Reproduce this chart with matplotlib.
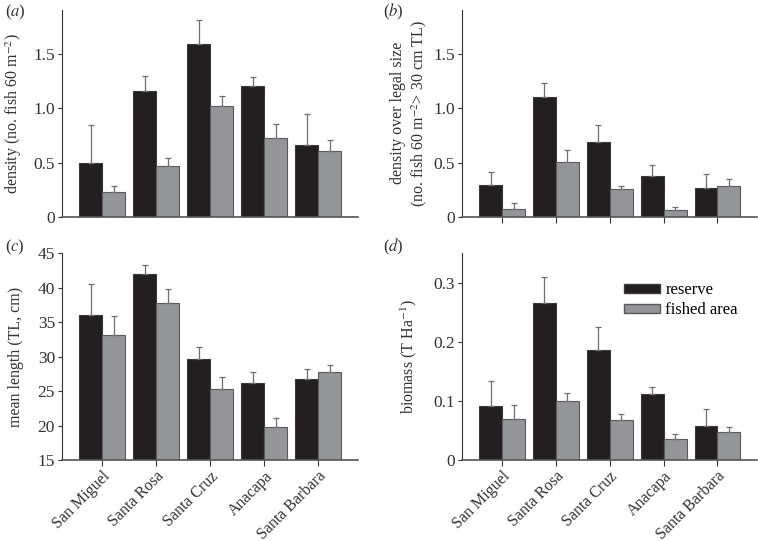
import numpy as np
import matplotlib
matplotlib.use('Agg')
import matplotlib.pyplot as plt
from matplotlib.patches import Patch

plt.rcParams['font.family'] = ['Liberation Serif', 'DejaVu Serif']
plt.rcParams['mathtext.fontset'] = 'stix'

# ======================================================
# data
# ======================================================
islands = ['San Miguel', 'Santa Rosa', 'Santa Cruz', 'Anacapa', 'Santa Barbara']

# (a) density
dens_res = [0.50, 1.16, 1.60, 1.205, 0.663]
dens_res_top = [0.844, 1.298, 1.82, 1.294, 0.951]
dens_fish = [0.224, 0.466, 1.025, 0.727, 0.604]
dens_fish_top = [0.288, 0.546, 1.117, 0.859, 0.706]

# (b) density over legal size
legal_res = [0.29, 1.107, 0.687, 0.38, 0.264]
legal_res_top = [0.414, 1.236, 0.847, 0.482, 0.393]
legal_fish = [0.07, 0.506, 0.255, 0.061, 0.285]
legal_fish_top = [0.123, 0.613, 0.288, 0.086, 0.344]

# (c) mean length
len_res = [36.0, 41.96, 29.73, 26.11, 26.79]
len_res_top = [40.56, 43.36, 31.33, 27.75, 28.19]
len_fish = [33.07, 37.75, 25.24, 19.78, 27.8]
len_fish_top = [35.97, 39.78, 27.03, 21.14, 28.86]

# (d) biomass
bio_res = [0.0906, 0.2656, 0.1857, 0.1125, 0.058]
bio_res_top = [0.1345, 0.3106, 0.2245, 0.1238, 0.0861]
bio_fish = [0.0687, 0.1002, 0.0675, 0.036, 0.0473]
bio_fish_top = [0.0929, 0.1137, 0.0771, 0.0433, 0.0551]

black = '#231f20'
grey = '#939598'
errcol = '#6d6e71'

fig = plt.figure(figsize=(7.58, 5.41), dpi=100)

W, H = 758.0, 541.0
def make_ax(x0, x1, ytop, ybot):
    return fig.add_axes([x0 / W, 1 - ybot / H, (x1 - x0) / W, (ybot - ytop) / H])

axA = make_ax(62, 358, 10, 216.7)
axB = make_ax(462, 757, 10, 216.7)
axC = make_ax(62, 358, 253.3, 460)
axD = make_ax(462, 757, 253.3, 460)

x = np.arange(len(islands))
bw = 0.426

def draw(ax, res, res_top, fish, fish_top, ylim, yticks, yticklabels, ylabel, show_xt, tick_marks=True):
    res = np.array(res); fish = np.array(fish)
    base = ylim[0]
    ax.bar(x - bw / 2, res - base, bw, bottom=base, color=black, edgecolor='#3a3a3a', linewidth=0.8,
           yerr=[np.zeros(5), np.array(res_top) - res],
           error_kw=dict(ecolor=errcol, elinewidth=0.9, capsize=2.5, capthick=0.9), zorder=2)
    ax.bar(x + bw / 2, fish - base, bw, bottom=base, color=grey, edgecolor='#5a5a5a', linewidth=0.8,
           yerr=[np.zeros(5), np.array(fish_top) - fish],
           error_kw=dict(ecolor=errcol, elinewidth=0.9, capsize=2.5, capthick=0.9), zorder=2)
    ax.set_xlim(-0.745, 4.735)
    ax.set_ylim(*ylim)
    ax.set_yticks(yticks)
    ax.set_yticklabels(yticklabels, fontsize=12.5, color='#333333')
    ax.set_ylabel(ylabel, fontsize=11.5, color='#333333')
    ax.spines['top'].set_visible(False)
    ax.spines['right'].set_visible(False)
    ax.spines['left'].set_color('#333333')
    ax.spines['bottom'].set_color('#555555')
    ax.spines['bottom'].set_linewidth(1.2)
    ax.tick_params(axis='y', direction='out', length=3, color='#333333', pad=2)
    ax.set_xticks(x)
    if tick_marks:
        ax.tick_params(axis='x', direction='out', length=4, color='#333333', pad=2)
    else:
        ax.tick_params(axis='x', length=0)
    if show_xt:
        ax.set_xticklabels(islands, rotation=45, ha='right', rotation_mode='anchor',
                           fontsize=11.5, color='#333333')
    else:
        ax.set_xticklabels([])

draw(axA, dens_res, dens_res_top, dens_fish, dens_fish_top, (0, 1.91),
     [0, 0.5, 1.0, 1.5], ['0', '0.5', '1.0', '1.5'],
     r'density (no. fish 60 m$^{-2}$)', False, tick_marks=False)
draw(axB, legal_res, legal_res_top, legal_fish, legal_fish_top, (0, 1.91),
     [0, 0.5, 1.0, 1.5], ['0', '0.5', '1.0', '1.5'],
     'density over legal size\n' + r'(no. fish 60 m$^{-2}$> 30 cm TL)', False)
draw(axC, len_res, len_res_top, len_fish, len_fish_top, (15, 45),
     [15, 20, 25, 30, 35, 40, 45], ['15', '20', '25', '30', '35', '40', '45'],
     'mean length (TL, cm)', True)
draw(axD, bio_res, bio_res_top, bio_fish, bio_fish_top, (0, 0.35),
     [0, 0.1, 0.2, 0.3], ['0', '0.1', '0.2', '0.3'],
     r'biomass (T Ha$^{-1}$)', True)

axA.yaxis.set_label_coords(-0.128, 0.5)
axC.yaxis.set_label_coords(-0.128, 0.5)
axB.yaxis.set_label_coords(-0.112, 0.5)
axD.yaxis.set_label_coords(-0.146, 0.5)

# panel letters
for lbl, px, py in [('a', 5, 12), ('b', 383, 12), ('c', 5, 247), ('d', 383, 247)]:
    fig.text(px / W, 1 - py / H, '(' + r'$\it{' + lbl + '}$' + ')', fontsize=12,
             va='center', ha='left', color='#333333')

handles = [Patch(facecolor=black, edgecolor='#3a3a3a'), Patch(facecolor=grey, edgecolor='#5a5a5a')]
axD.legend(handles, ['reserve', 'fished area'], loc='upper left', bbox_to_anchor=(0.52, 0.9),
           frameon=False, fontsize=12, handlelength=2.2, handleheight=0.45,
           handletextpad=0.3, labelspacing=0.25, borderpad=0)

fig.savefig('out.png', dpi=100)
